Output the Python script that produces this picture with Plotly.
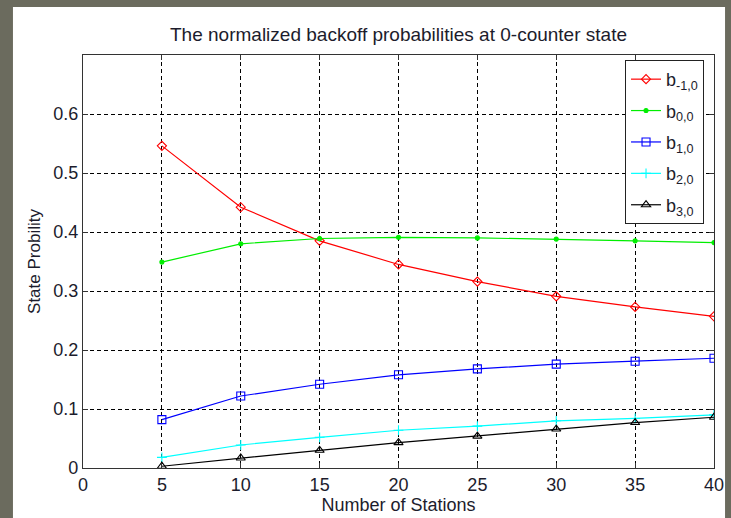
import plotly.graph_objects as go

# Number of stations on the x axis
stations = [5, 10, 15, 20, 25, 30, 35, 40]

# Normalized backoff probabilities at the 0-counter state
b_m1_0 = [0.546, 0.442, 0.385, 0.345, 0.316, 0.291, 0.273, 0.257]
b_0_0 = [0.349, 0.380, 0.389, 0.391, 0.390, 0.388, 0.385, 0.382]
b_1_0 = [0.082, 0.122, 0.142, 0.158, 0.168, 0.176, 0.181, 0.186]
b_2_0 = [0.018, 0.039, 0.052, 0.064, 0.071, 0.080, 0.084, 0.090]
b_3_0 = [0.003, 0.017, 0.030, 0.043, 0.054, 0.066, 0.077, 0.086]

series = [
    ("b<sub>-1,0</sub>", b_m1_0, "#ff0000", "diamond-open", 7),
    ("b<sub>0,0</sub>", b_0_0, "#00ee00", "circle", 4),
    ("b<sub>1,0</sub>", b_1_0, "#0000ff", "square-open", 8),
    ("b<sub>2,0</sub>", b_2_0, "#00ffff", "cross-thin-open", 7),
    ("b<sub>3,0</sub>", b_3_0, "#000000", "triangle-up-open", 8),
]

FONT = "Liberation Sans, Arial, Helvetica, sans-serif"
TEXT = "#1c1c2c"

fig = go.Figure()
for i, (name, vals, color, symbol, size) in enumerate(series):
    fig.add_trace(go.Scatter(
        x=stations, y=vals, name=name, mode="lines+markers",
        legendgroup=f"g{i}",
        line=dict(color=color, width=1.2),
        marker=dict(symbol=symbol, size=size, color=color,
                    line=dict(color=color, width=1.1)),
    ))

# white figure panel on the grey surround
fig.add_shape(type="rect", xref="paper", yref="paper",
              x0=-0.111, x1=1.0175, y0=-0.125, y1=1.116,
              fillcolor="white", line=dict(width=0), layer="below")

axis_common = dict(
    showline=True, linecolor="#333333", linewidth=1.2, mirror="ticks",
    ticks="inside", ticklen=5, tickcolor="#333333",
    showgrid=True, gridcolor="#000000", gridwidth=1, griddash="4px,3px",
    zeroline=False, automargin=False,
    tickfont=dict(family=FONT, size=18, color=TEXT),
)

fig.update_xaxes(range=[0, 40], dtick=5, tick0=0,
                 title=dict(text="Number of Stations", standoff=4,
                            font=dict(family=FONT, size=18, color=TEXT)),
                 **axis_common)
fig.update_yaxes(range=[0, 0.7], dtick=0.1, tick0=0,
                 tickvals=[0, 0.1, 0.2, 0.3, 0.4, 0.5, 0.6],
                 ticktext=["0", "0.1", "0.2", "0.3", "0.4", "0.5", "0.6"],
                 title=dict(text="State Probility", standoff=8,
                            font=dict(family=FONT, size=17, color=TEXT)),
                 **axis_common)

fig.update_layout(
    width=731, height=518,
    margin=dict(l=83, r=17, t=55, b=50, autoexpand=False),
    paper_bgcolor="#6b6b5e", plot_bgcolor="white",
    title=dict(text="The normalized backoff probabilities at 0-counter state",
               x=0.5, xref="paper", xanchor="center",
               y=1 - 34 / 518, yref="container", yanchor="middle",
               font=dict(family=FONT, size=19, color=TEXT)),
    legend=dict(x=0.859, y=0.988, xanchor="left", yanchor="top",
                bgcolor="white", bordercolor="#222222", borderwidth=1,
                tracegroupgap=5, itemwidth=30,
                font=dict(family=FONT, size=18, color=TEXT)),
    showlegend=True,
)

fig.write_html("out.html")
